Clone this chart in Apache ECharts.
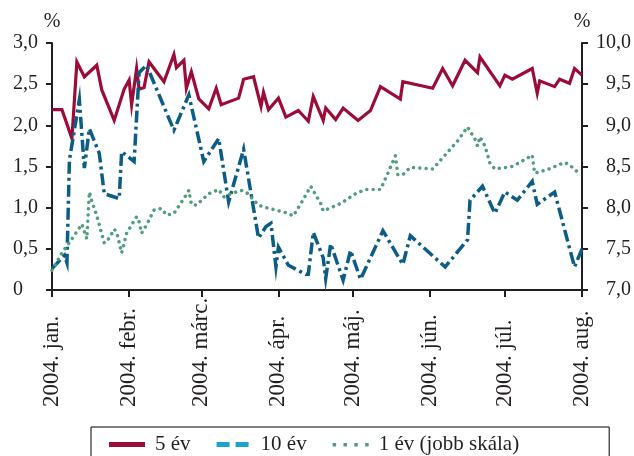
<!DOCTYPE html>
<html>
<head>
<meta charset="utf-8">
<script src="https://cdn.jsdelivr.net/npm/echarts@6/dist/echarts.min.js"></script>
<style>
html,body{margin:0;padding:0;background:#fff;}
#chart{width:634px;height:456px;}
</style>
</head>
<body>
<div id="chart"></div>
<script>
// ---- data ----
const monthLabels = ['jan.', 'febr.', 'márc.', 'ápr.', 'máj.', 'jún.', 'júl.', 'aug.'];
const yearLabel = '2004.';
const seriesNames = ['5 év', '10 év', '1 év (jobb skála)'];

const dates5 = ['2004-01-01','2004-01-05','2004-01-09','2004-01-11','2004-01-14','2004-01-19','2004-01-21','2004-01-26','2004-01-30',
  '2004-02-01','2004-02-02','2004-02-04','2004-02-05','2004-02-07','2004-02-09','2004-02-15','2004-02-19','2004-02-20','2004-02-23','2004-02-24','2004-02-26','2004-02-29',
  '2004-03-04','2004-03-07','2004-03-09','2004-03-16','2004-03-18','2004-03-22','2004-03-25','2004-03-26','2004-03-28',
  '2004-04-01','2004-04-04','2004-04-09','2004-04-13','2004-04-15','2004-04-19','2004-04-20','2004-04-24','2004-04-27',
  '2004-05-03','2004-05-08','2004-05-12','2004-05-20','2004-05-21',
  '2004-06-02','2004-06-06','2004-06-10','2004-06-15','2004-06-20','2004-06-21','2004-06-29',
  '2004-07-01','2004-07-04','2004-07-12','2004-07-14','2004-07-15','2004-07-21','2004-07-23','2004-07-27','2004-07-29','2004-08-01'];
const values5 = [2.19,2.19,1.84,2.77,2.59,2.73,2.43,2.06,2.44,
  2.55,2.25,2.69,2.44,2.46,2.77,2.53,2.86,2.70,2.79,2.45,2.65,2.32,
  2.20,2.45,2.25,2.33,2.56,2.59,2.23,2.40,2.19,
  2.33,2.10,2.18,2.05,2.35,2.06,2.21,2.07,2.21,
  2.06,2.18,2.47,2.32,2.53,
  2.45,2.69,2.48,2.79,2.64,2.83,2.48,
  2.61,2.56,2.69,2.39,2.54,2.47,2.56,2.51,2.69,2.61];

const dates10 = ['2004-01-01','2004-01-06','2004-01-07','2004-01-08','2004-01-12','2004-01-14','2004-01-16','2004-01-20','2004-01-22','2004-01-28','2004-01-29',
  '2004-02-03','2004-02-05','2004-02-08','2004-02-19','2004-02-25',
  '2004-03-02','2004-03-08','2004-03-12','2004-03-18','2004-03-24','2004-03-27','2004-03-29','2004-03-31',
  '2004-04-01','2004-04-05','2004-04-12','2004-04-13','2004-04-15','2004-04-19','2004-04-20','2004-04-22','2004-04-27','2004-04-30',
  '2004-05-04','2004-05-13','2004-05-21','2004-05-24',
  '2004-06-07','2004-06-16','2004-06-17','2004-06-22','2004-06-27',
  '2004-07-01','2004-07-06','2004-07-12','2004-07-14','2004-07-21','2004-07-29','2004-08-01'];
const values10 = [0.26,0.42,0.33,1.58,2.31,1.48,1.96,1.66,1.17,1.11,1.68,
  1.56,2.64,2.73,1.94,2.37,
  1.56,1.84,1.07,1.71,0.63,0.77,0.81,0.28,
  0.52,0.30,0.19,0.19,0.70,0.39,0.14,0.56,0.12,0.48,
  0.13,0.72,0.31,0.66,
  0.28,0.61,1.09,1.26,0.93,
  1.19,1.09,1.32,1.04,1.19,0.28,0.50];

const dates1 = ['2004-01-01','2004-01-05','2004-01-09','2004-01-13','2004-01-15','2004-01-16','2004-01-17','2004-01-19','2004-01-22','2004-01-24','2004-01-26','2004-01-27','2004-01-29','2004-01-31',
  '2004-02-04','2004-02-05','2004-02-06','2004-02-08','2004-02-11','2004-02-14','2004-02-16','2004-02-19','2004-02-23','2004-02-25','2004-02-26','2004-02-28',
  '2004-03-04','2004-03-08','2004-03-10','2004-03-13','2004-03-17','2004-03-19','2004-03-24','2004-03-27',
  '2004-04-04','2004-04-07','2004-04-11','2004-04-14','2004-04-18','2004-04-19','2004-04-26',
  '2004-05-02','2004-05-06','2004-05-12','2004-05-15','2004-05-18','2004-05-19','2004-05-21','2004-05-24',
  '2004-06-02','2004-06-07','2004-06-12','2004-06-16','2004-06-19','2004-06-20','2004-06-21','2004-06-23','2004-06-25','2004-06-27',
  '2004-07-04','2004-07-10','2004-07-12','2004-07-13','2004-07-18','2004-07-25','2004-07-27','2004-07-30'];
const values1 = [7.24,7.45,7.62,7.80,7.62,8.19,8.08,7.90,7.57,7.63,7.74,7.70,7.45,7.69,
  7.89,7.83,7.69,7.79,7.97,7.99,7.91,7.93,8.11,8.21,8.04,8.03,
  8.17,8.22,8.13,8.17,8.21,8.19,8.03,8.00,
  7.94,7.90,8.10,8.26,8.05,7.96,8.05,
  8.17,8.22,8.22,8.42,8.63,8.40,8.40,8.49,
  8.47,8.64,8.81,8.98,8.83,8.75,8.86,8.75,8.54,8.47,
  8.50,8.60,8.64,8.42,8.46,8.55,8.52,8.44];

// ---- chart ----
const FONT = 'Liberation Serif';
const AXIS_COLOR = '#231f20';
const pair = (d, v) => d.map((x, i) => [x, v[i]]);
const fmt = v => v === 0 ? '0' : v.toFixed(1).replace('.', ',');

const chart = echarts.init(document.getElementById('chart'), null, {renderer: 'canvas'});
chart.setOption({
  animation: false,
  backgroundColor: '#ffffff',
  grid: {left: 52, right: 51, top: 43, bottom: 166, containLabel: false},
  xAxis: {
    type: 'time',
    min: '2004-01-01', max: '2004-08-01',
    minInterval: 28 * 86400000, maxInterval: 31 * 86400000,
    axisLine: {show: true, lineStyle: {color: AXIS_COLOR, width: 2}},
    axisTick: {show: true, length: 7, lineStyle: {color: AXIS_COLOR, width: 2}},
    splitLine: {show: false},
    axisLabel: {
      rotate: 90, margin: 7, fontFamily: FONT, fontSize: 23, color: AXIS_COLOR,
      showMinLabel: true, showMaxLabel: true, hideOverlap: false,
      formatter: function (val) { const d = new Date(val); return '{m|' + yearLabel + ' ' + monthLabels[d.getMonth()] + '}'; },
      rich: {m: {width: 110, align: 'left', fontFamily: FONT, fontSize: 23, color: AXIS_COLOR}}
    }
  },
  yAxis: [{
    type: 'value', min: 0, max: 3, interval: 0.5, position: 'left',
    name: '%', nameLocation: 'end', nameGap: 11,
    nameTextStyle: {fontFamily: FONT, fontSize: 20, color: AXIS_COLOR},
    axisLine: {show: true, lineStyle: {color: AXIS_COLOR, width: 2}},
    axisTick: {show: true, length: 6, lineStyle: {color: AXIS_COLOR, width: 2}},
    splitLine: {show: false},
    axisLabel: {fontFamily: FONT, fontSize: 20, color: AXIS_COLOR, align: 'left', margin: 39, formatter: fmt}
  }, {
    type: 'value', min: 7, max: 10, interval: 0.5, position: 'right',
    name: '%', nameLocation: 'end', nameGap: 11,
    nameTextStyle: {fontFamily: FONT, fontSize: 20, color: AXIS_COLOR},
    axisLine: {show: true, lineStyle: {color: AXIS_COLOR, width: 2}},
    axisTick: {show: true, length: 6, lineStyle: {color: AXIS_COLOR, width: 2}},
    splitLine: {show: false},
    axisLabel: {fontFamily: FONT, fontSize: 20, color: AXIS_COLOR, align: 'right', margin: 49, formatter: fmt}
  }],
  legend: {
    left: 91, top: 427,
    padding: [7, 90, 14, 18],
    borderColor: '#000', borderWidth: 1,
    itemWidth: 36, itemHeight: 5, itemGap: 26,
    symbolKeepAspect: true,
    textStyle: {fontFamily: FONT, fontSize: 21, color: AXIS_COLOR, padding: [0, 0, 0, 5]},
    data: [
      {name: seriesNames[0], icon: 'path://M0,0H36V5H0Z', itemStyle: {color: '#9c0c38', borderWidth: 0}},
      {name: seriesNames[1], icon: 'path://M0,0H13V5H0ZM19,0H32V5H19Z', itemStyle: {color: '#1aa4c8', borderWidth: 0}},
      {name: seriesNames[2], icon: 'path://M0,1H3.5V4.5H0ZM11,1H14.5V4.5H11ZM22,1H25.5V4.5H22ZM33,1H36.5V4.5H33ZM0,0H0.01V5H0Z', itemStyle: {color: '#4f9e7e', borderWidth: 0}}
    ]
  },
  series: [{
    name: seriesNames[0], type: 'line', yAxisIndex: 0, showSymbol: false, symbol: 'none',
    data: pair(dates5, values5),
    lineStyle: {color: '#9c0c38', width: 3.2, join: 'miter', miterLimit: 10},
    itemStyle: {color: '#9c0c38'}, z: 2
  }, {
    name: seriesNames[1], type: 'line', yAxisIndex: 0, showSymbol: false, symbol: 'none',
    data: pair(dates10, values10),
    lineStyle: {color: '#0b5d85', width: 3.5, type: [12, 4, 3, 4], join: 'miter', miterLimit: 10},
    itemStyle: {color: '#0b5d85'}, z: 3
  }, {
    name: seriesNames[2], type: 'line', yAxisIndex: 1, showSymbol: false, symbol: 'none',
    data: pair(dates1, values1),
    lineStyle: {color: '#4f9e7e', width: 3.5, type: [0.01, 6.3], cap: 'round'},
    itemStyle: {color: '#4f9e7e'}, z: 4
  }]
});
</script>
</body>
</html>
